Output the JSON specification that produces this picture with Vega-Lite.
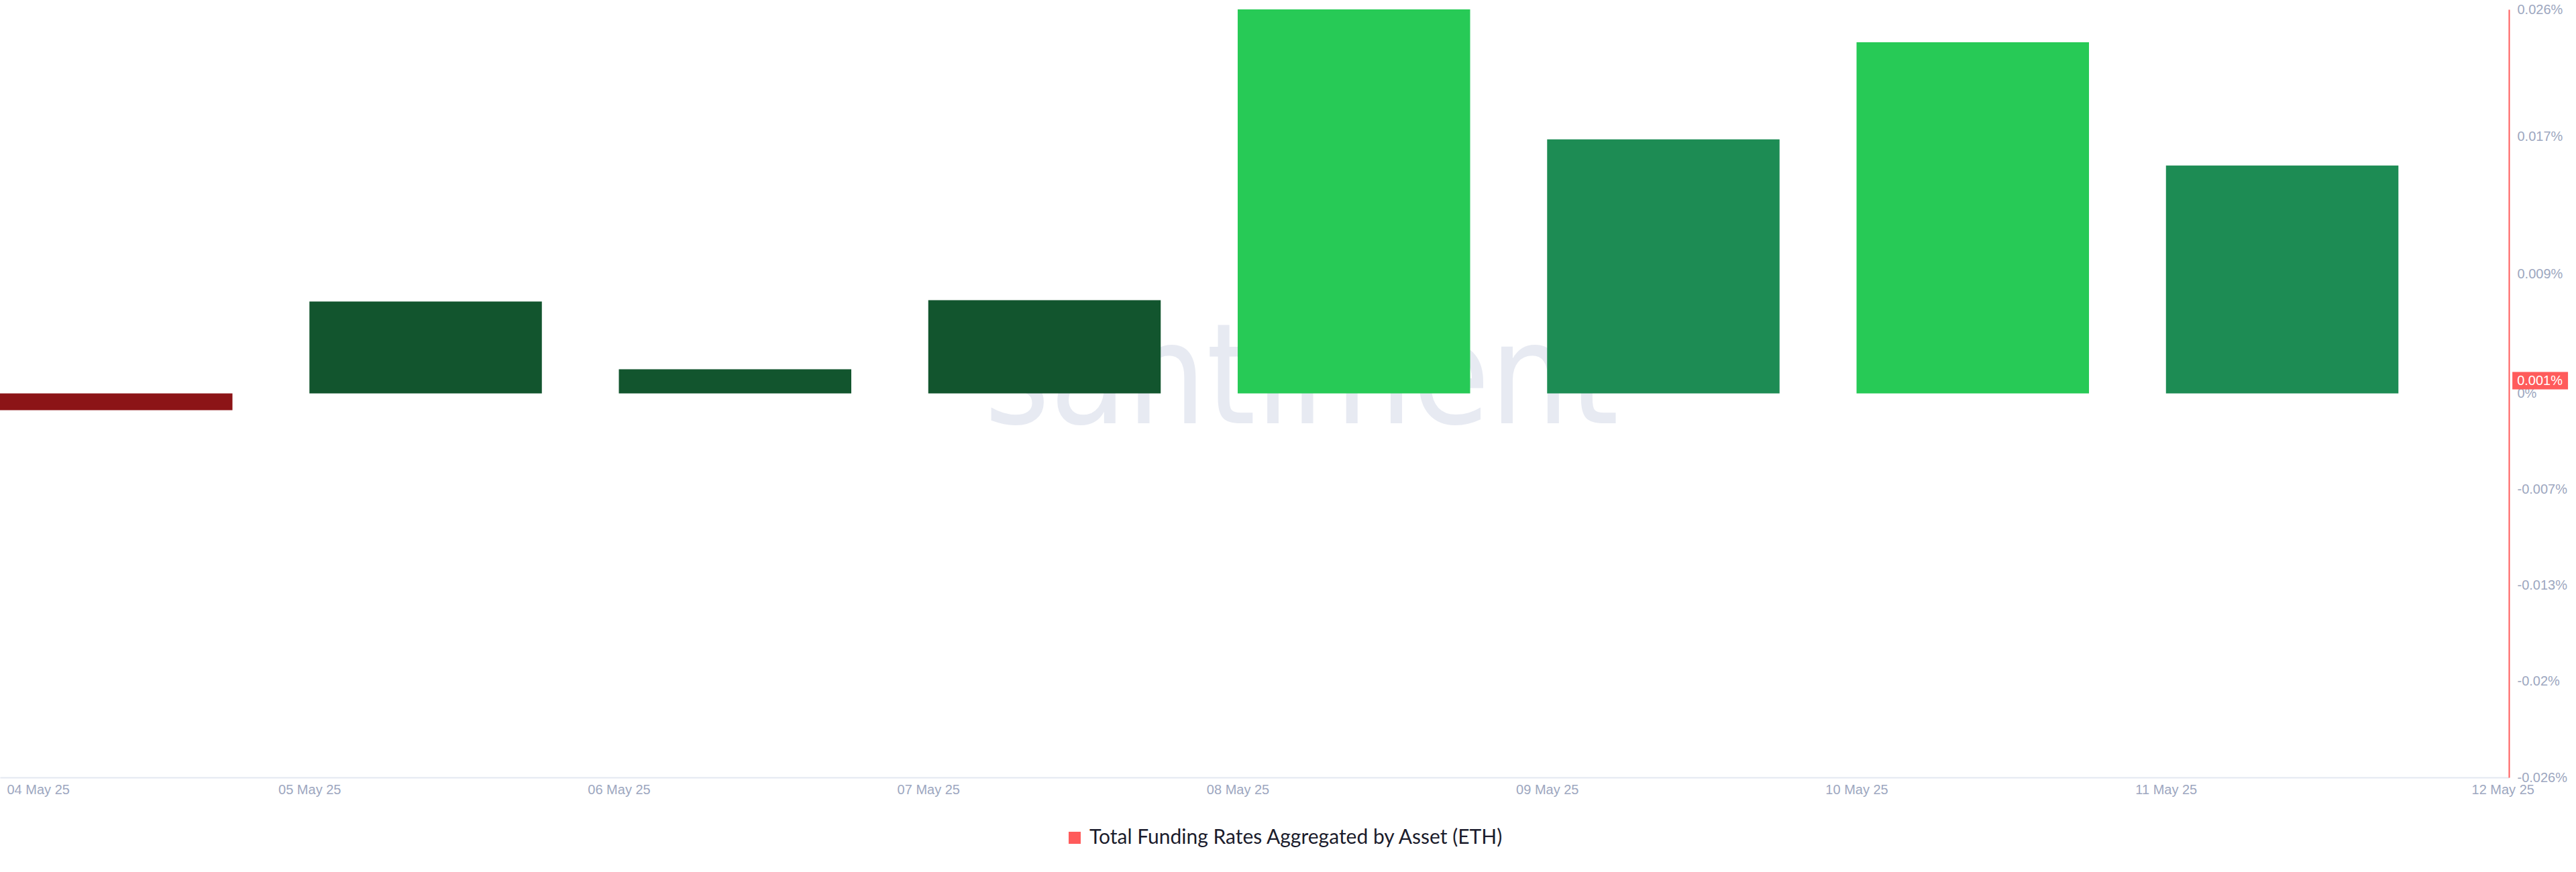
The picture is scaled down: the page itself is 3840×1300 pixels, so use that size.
{
  "$schema": "https://vega.github.io/schema/vega-lite/v6.json",
  "width": 3740,
  "height": 1145,
  "autosize": {"type": "none"},
  "padding": {"left": 0, "top": 14, "right": 100, "bottom": 141},
  "background": "white",
  "config": {"view": {"stroke": null}, "font": "Liberation Sans"},
  "data": {
    "values": [
      {"date": "2025-05-04T00:00:00Z", "value": -0.00114, "tier": "neg", "series": "Total Funding Rates Aggregated by Asset (ETH)"},
      {"date": "2025-05-05T00:00:00Z", "value": 0.00622, "tier": "low", "series": "Total Funding Rates Aggregated by Asset (ETH)"},
      {"date": "2025-05-06T00:00:00Z", "value": 0.00164, "tier": "low", "series": "Total Funding Rates Aggregated by Asset (ETH)"},
      {"date": "2025-05-07T00:00:00Z", "value": 0.00631, "tier": "low", "series": "Total Funding Rates Aggregated by Asset (ETH)"},
      {"date": "2025-05-08T00:00:00Z", "value": 0.026, "tier": "high", "series": "Total Funding Rates Aggregated by Asset (ETH)"},
      {"date": "2025-05-09T00:00:00Z", "value": 0.0172, "tier": "mid", "series": "Total Funding Rates Aggregated by Asset (ETH)"},
      {"date": "2025-05-10T00:00:00Z", "value": 0.02377, "tier": "high", "series": "Total Funding Rates Aggregated by Asset (ETH)"},
      {"date": "2025-05-11T00:00:00Z", "value": 0.01543, "tier": "mid", "series": "Total Funding Rates Aggregated by Asset (ETH)"}
    ]
  },
  "layer": [
    {
      "data": {"values": [{"label": "santiment"}]},
      "mark": {"type": "text", "align": "center", "baseline": "alphabetic", "font": "DejaVu Sans Condensed, Roboto Condensed, Liberation Sans Narrow, Roboto, sans-serif", "fontSize": 208, "color": "#e7eaf2"},
      "encoding": {
        "x": {"datum": {"year": 2025, "month": 5, "date": 8, "hours": 4, "minutes": 57, "utc": true}, "type": "temporal"},
        "y": {"datum": -0.00204, "type": "quantitative"},
        "text": {"field": "label"}
      }
    },
    {
      "mark": {"type": "bar", "width": 346.5, "xOffset": 173.25},
      "encoding": {
        "x": {
          "field": "date",
          "type": "temporal",
          "scale": {
            "type": "utc",
            "padding": 0,
            "domain": [
              {"year": 2025, "month": 5, "date": 4, "utc": true},
              {"year": 2025, "month": 5, "date": 12, "hours": 2, "minutes": 36, "utc": true}
            ]
          },
          "axis": {
            "orient": "bottom",
            "title": null,
            "values": [
              {"year": 2025, "month": 5, "date": 4, "utc": true},
              {"year": 2025, "month": 5, "date": 5, "utc": true},
              {"year": 2025, "month": 5, "date": 6, "utc": true},
              {"year": 2025, "month": 5, "date": 7, "utc": true},
              {"year": 2025, "month": 5, "date": 8, "utc": true},
              {"year": 2025, "month": 5, "date": 9, "utc": true},
              {"year": 2025, "month": 5, "date": 10, "utc": true},
              {"year": 2025, "month": 5, "date": 11, "utc": true},
              {"year": 2025, "month": 5, "date": 12, "utc": true}
            ],
            "labelExpr": "utcFormat(datum.value, '%d %b %y')",
            "domainColor": "#e4e8f1",
            "domainWidth": 2,
            "ticks": false,
            "grid": false,
            "labelColor": "#9da7c0",
            "labelFontSize": 20,
            "labelPadding": 8,
            "labelBound": false,
            "labelOverlap": false,
            "labelFlush": false,
            "labelAlign": {"condition": {"test": "datum.index === 0 || datum.index === 1", "value": "left"}, "value": "center"},
            "labelOffset": {"condition": [{"test": "datum.index === 0", "value": 10}, {"test": "datum.index === 1", "value": -6}], "value": 0}
          }
        },
        "y": {
          "field": "value",
          "type": "quantitative",
          "stack": null,
          "scale": {"domain": [-0.026, 0.026], "nice": false, "zero": true, "padding": 0},
          "axis": {
            "orient": "right",
            "title": null,
            "values": [0.026, 0.0174, 0.0081, 0, -0.0065, -0.013, -0.0195, -0.026],
            "labelExpr": "datum.value > 0.02 ? '0.026%' : datum.value > 0.015 ? '0.017%' : datum.value > 0.005 ? '0.009%' : datum.value > -0.001 ? '0%' : datum.value > -0.008 ? '-0.007%' : datum.value > -0.015 ? '-0.013%' : datum.value > -0.022 ? '-0.02%' : '-0.026%'",
            "domainColor": "#ff5b5b",
            "domainWidth": 2,
            "ticks": false,
            "grid": false,
            "labelColor": "#9da7c0",
            "labelFontSize": 20,
            "labelPadding": 12,
            "labelBaseline": "middle",
            "labelBound": false,
            "labelOverlap": false,
            "labelFlush": false
          }
        },
        "fill": {
          "field": "tier",
          "type": "nominal",
          "scale": {"domain": ["neg", "low", "mid", "high"], "range": ["#8c1417", "#12552e", "#1d8c54", "#27ca56"]},
          "legend": null
        }
      }
    },
    {
      "mark": {"type": "point", "shape": "square", "filled": true, "opacity": 0},
      "encoding": {
        "x": {"field": "date", "type": "temporal"},
        "y": {"field": "value", "type": "quantitative"},
        "color": {
          "field": "series",
          "type": "nominal",
          "scale": {"range": ["#ff5b5b"]},
          "legend": {
            "orient": "none",
            "legendX": 1587,
            "legendY": 1220,
            "title": null,
            "padding": 0,
            "symbolType": "square",
            "symbolSize": 324,
            "symbolOpacity": 1,
            "symbolStrokeWidth": 0,
            "symbolFillColor": "#ff5b5b",
            "labelFontSize": 30,
            "labelFont": "Lato",
            "labelColor": "#1b1c2c",
            "labelLimit": 0,
            "labelOffset": 7
          }
        }
      }
    },
    {
      "data": {"values": [{"label": "0.001%"}]},
      "mark": {"type": "rect", "color": "#ff5b5b"},
      "encoding": {
        "x": {"datum": {"year": 2025, "month": 5, "date": 12, "hours": 2, "minutes": 52, "utc": true}, "type": "temporal"},
        "x2": {"datum": {"year": 2025, "month": 5, "date": 12, "hours": 7, "minutes": 11, "utc": true}},
        "y": {"datum": 0.00145, "type": "quantitative"},
        "y2": {"datum": 0.00027}
      }
    },
    {
      "data": {"values": [{"label": "0.001%"}]},
      "mark": {"type": "text", "align": "left", "baseline": "middle", "color": "white", "fontSize": 20, "font": "Liberation Sans"},
      "encoding": {
        "x": {"datum": {"year": 2025, "month": 5, "date": 12, "hours": 3, "minutes": 14, "utc": true}, "type": "temporal"},
        "y": {"datum": 0.00086, "type": "quantitative"},
        "text": {"field": "label"}
      }
    }
  ]
}
